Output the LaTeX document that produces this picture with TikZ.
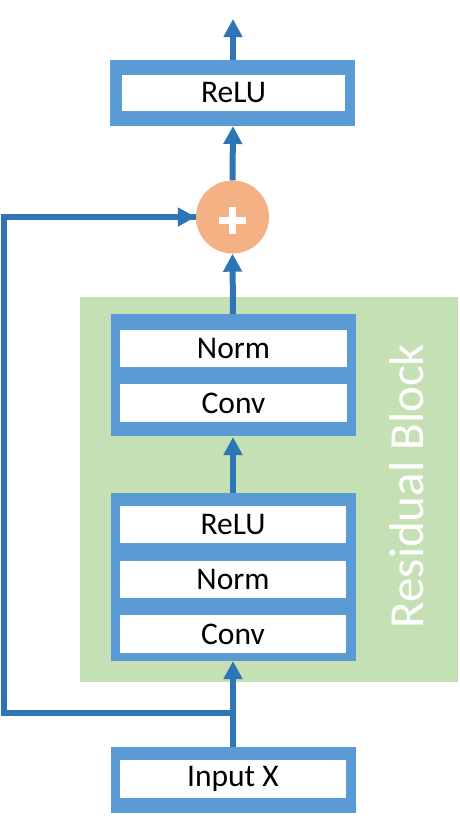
\documentclass[tikz,border=0pt]{standalone}
\usepackage{fontspec}
\setmainfont{Carlito}
\usetikzlibrary{arrows.meta}
\definecolor{boxblue}{HTML}{5B9BD5}
\definecolor{lineblue}{HTML}{2E75B6}
\definecolor{resgreen}{HTML}{C5E0B4}
\definecolor{addorange}{HTML}{F4B183}
\tikzset{
  outerbox/.style={draw=none, fill=boxblue, inner sep=0pt, minimum width=245pt},
  labelbox/.style={draw=none, fill=white, inner sep=0pt, font=\fontsize{31.5}{36}\selectfont, text=black},
  flow/.style={draw=lineblue, line width=6pt, -{Triangle[length=18pt,width=18pt]}},
  skip/.style={draw=lineblue, line width=6pt},
}
\begin{document}
\begin{tikzpicture}[x=1pt,y=-1pt]
\useasboundingbox (0,0) rectangle (460,820);
% residual block background
\node[fill=resgreen, inner sep=0pt, minimum width=378pt, minimum height=385pt] (res) at (269,489.5) {};
\node[anchor=base, rotate=90, text=white, font=\fontsize{49}{56}\selectfont] (reslabel) at (423,486) {Residual Block};
% top ReLU
\node[outerbox, minimum height=66pt] (topbox) at (232.5,93) {};
\node[labelbox, minimum width=223pt, minimum height=36pt] (toprelu) at (233.5,93) {ReLU};
% add
\node[circle, fill=addorange, minimum size=73pt, inner sep=0pt] (plus) at (232.5,217) {};
\draw[white, line width=6.5pt] (219.2,220.5) -- (245.8,220.5);
\draw[white, line width=6.5pt] (232.5,207) -- (232.5,234);
% upper block
\node[outerbox, minimum height=122pt] (upper) at (233.5,375) {};
\node[labelbox, minimum width=227pt, minimum height=37pt] (unorm) at (233.5,348.5) {Norm};
\node[labelbox, minimum width=227pt, minimum height=38pt] (uconv) at (233.5,403) {Conv};
% lower block
\node[outerbox, minimum height=168pt] (lower) at (233.5,577) {};
\node[labelbox, minimum width=226pt, minimum height=37pt] (lrelu) at (233,524.5) {ReLU};
\node[labelbox, minimum width=226pt, minimum height=37pt] (lnorm) at (233,579.5) {Norm};
\node[labelbox, minimum width=226pt, minimum height=38pt] (lconv) at (233,634) {Conv};
% input
\node[outerbox, minimum height=66pt] (inbox) at (233.5,780) {};
\node[labelbox, minimum width=226pt, minimum height=38pt] (input) at (233,779) {Input X};
% connectors
\coordinate (out) at (233,19);
\coordinate (j) at (233,713);
\coordinate (lc) at (4,713);
\coordinate (tc) at (4,217);
\draw[flow] (233,747) -- (233,661);
\draw[skip] (j) -- (lc) -- (tc) -- (plus.west);
\draw[flow] (j) -- (lc) -- (tc) -- (plus.west);
\draw[flow] (233,493) -- (233,437);
\draw[flow] (233,314) -- (plus.south);
\draw[flow] (plus.north) -- (233,126);
\draw[flow] (233,60) -- (out);
\end{tikzpicture}
\end{document}
